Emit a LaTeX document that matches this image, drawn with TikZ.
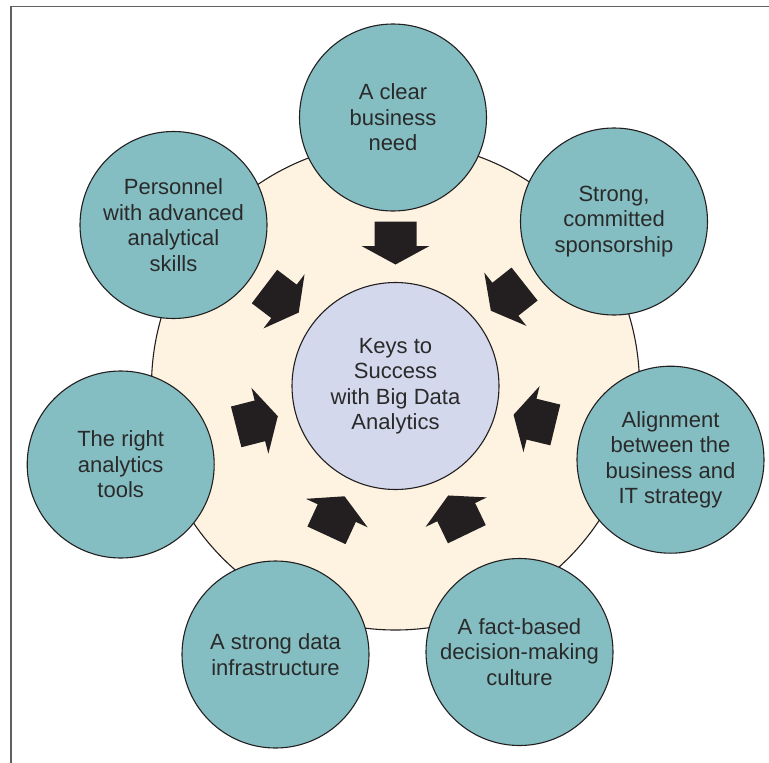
\documentclass[tikz,border=0pt]{standalone}
\usepackage{fontspec}
\setmainfont{Liberation Sans}
\definecolor{teal1}{HTML}{84BEC2}
\definecolor{cream}{HTML}{FEF3E0}
\definecolor{lav}{HTML}{D3D8EC}
\definecolor{ink}{HTML}{231F20}
\definecolor{txt}{HTML}{2A2A2A}
\definecolor{frame}{HTML}{606060}
\tikzset{
  keycircle/.style={circle, draw=ink, line width=1.1pt, fill=teal1, minimum size=187pt, inner sep=0pt,
    align=center, text=txt, font=\fontsize{22}{25.5}\selectfont},
  hubcircle/.style={circle, draw=ink, line width=1.1pt, fill=lav, minimum size=207pt, inner sep=0pt,
    align=center, text=txt, font=\fontsize{22}{25.5}\selectfont},
  blockarrow/.style={fill=ink, draw=none},
}
\begin{document}
\begin{tikzpicture}[x=1pt,y=-1pt]
\useasboundingbox (0,0) rectangle (769,763);
% frame
\draw[frame, line width=1.5pt] (10.8,763) -- (10.8,6.7) -- (769,6.7);
% background disc
\node[circle, draw=ink, line width=1.1pt, fill=cream, minimum size=488pt, inner sep=0pt] (disc) at (395.5,386) {};
% outer circles
\node[keycircle] (need) at (393,117.5) {A clear\\business\\need};
\node[keycircle] (spons) at (614,221.5) {Strong,\\committed\\sponsorship};
\node[keycircle] (align) at (670.5,459.7) {Alignment\\between the\\business and\\IT strategy};
\node[keycircle] (culture) at (519.5,652) {A fact-based\\decision-making\\culture};
\node[keycircle] (infra) at (275.5,654.5) {A strong data\\infrastructure};
\node[keycircle] (tools) at (120.7,464.5) {The right\\analytics\\tools};
\node[keycircle] (people) at (173.5,225) {Personnel\\with advanced\\analytical\\skills};
% hub
\node[hubcircle] (hub) at (395.5,386) {Keys to\\Success\\with Big Data\\Analytics};
% block arrows pointing to the hub
\foreach \a in {90,38.3,-13.7,-64.3,-114.8,-165.6,142.8}{
  \begin{scope}[shift={(hub.center)}, rotate=\a-90]
    \fill[blockarrow] (-21,-164.5) -- (21,-164.5) -- (21,-140) -- (34,-140) -- (0,-121.5)
      -- (-34,-140) -- (-21,-140) -- cycle;
  \end{scope}
}
\end{tikzpicture}
\end{document}
